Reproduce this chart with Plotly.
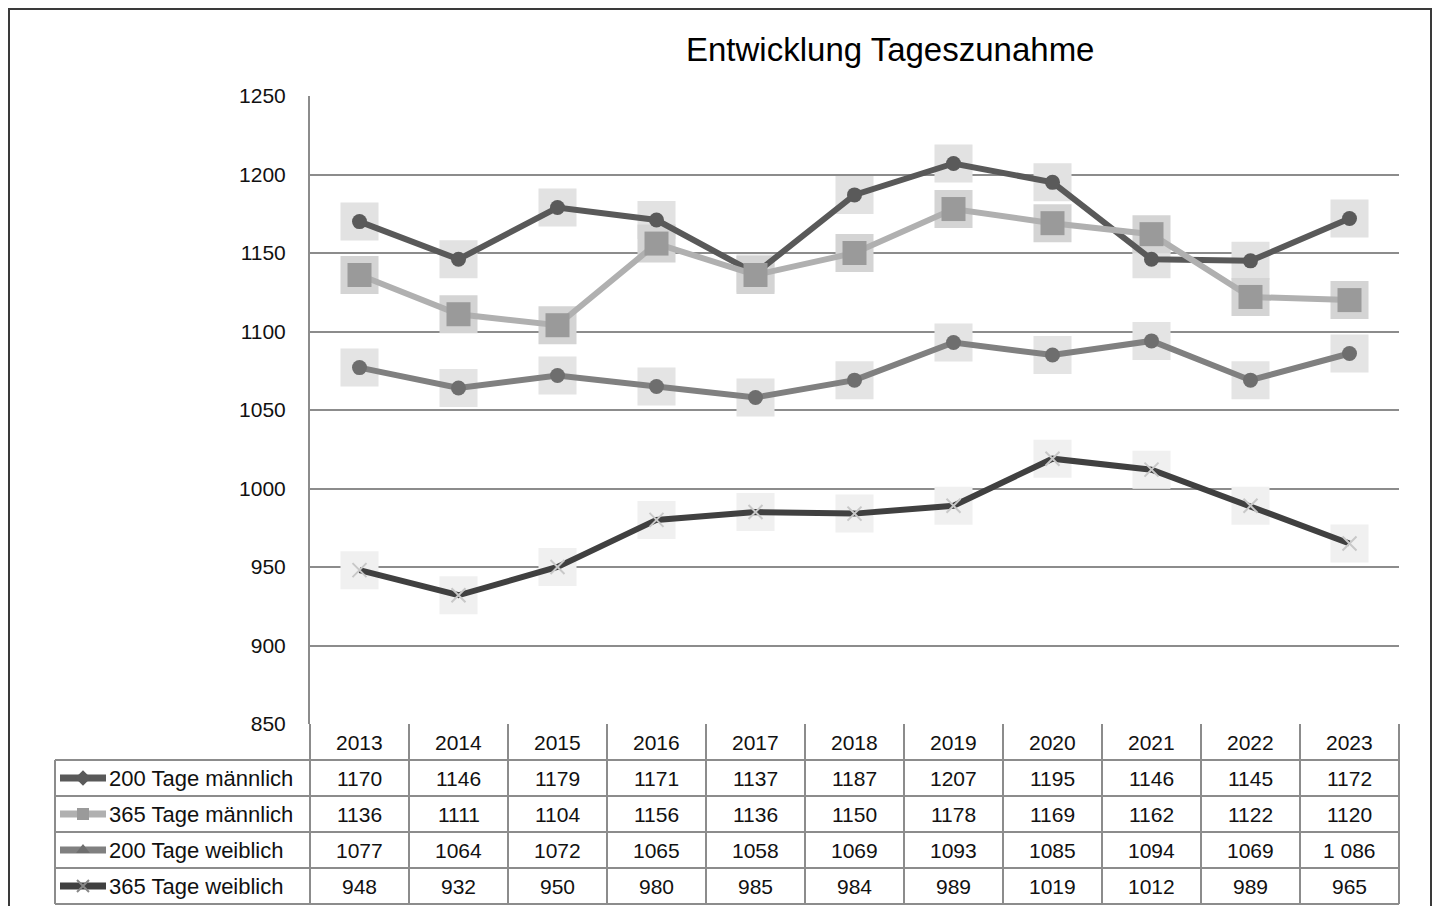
import plotly.graph_objects as go

years = ["2013", "2014", "2015", "2016", "2017", "2018", "2019", "2020", "2021", "2022", "2023"]
m200 = [1170, 1146, 1179, 1171, 1137, 1187, 1207, 1195, 1146, 1145, 1172]
m365 = [1136, 1111, 1104, 1156, 1136, 1150, 1178, 1169, 1162, 1122, 1120]
w200 = [1077, 1064, 1072, 1065, 1058, 1069, 1093, 1085, 1094, 1069, 1086]
w365 = [948, 932, 950, 980, 985, 984, 989, 1019, 1012, 989, 965]
names = ["200 Tage männlich", "365 Tage männlich", "200 Tage weiblich", "365 Tage weiblich"]
title = "Entwicklung Tageszunahme"
y_ticks = [850, 900, 950, 1000, 1050, 1100, 1150, 1200, 1250]

W, H = 1435, 906
FONT = "Liberation Sans, Arial, sans-serif"

def px(x):
    return x / W

def py(y):
    return 1 - y / H

series = [m200, m365, w200, w365]
texts = [[str(v) for v in s] for s in series]
texts[2][-1] = "1 086"

styles = [
    dict(line="#595959", marker="#5a5a5a", symbol="circle", msize=15, glow="#e2e2e2", lsym="diamond"),
    dict(line="#b0b0b0", marker="#9a9a9a", symbol="square", msize=24, glow="#d4d4d4", lsym="square"),
    dict(line="#808080", marker="#6e6e6e", symbol="circle", msize=15, glow="#e4e4e4", lsym="triangle-up"),
    dict(line="#404040", marker="#c8c8c8", symbol="x-thin-open", msize=14, glow="#f0f0f0", lsym="x-thin-open"),
]

xs = list(range(len(years)))
fig = go.Figure()

# glow squares beneath everything
for s, st in zip(series, styles):
    fig.add_trace(go.Scatter(x=xs, y=s, mode="markers", showlegend=False, hoverinfo="skip",
                             marker=dict(symbol="square", size=38, color=st["glow"], line=dict(width=0))))
for s, st, n in zip(series, styles, names):
    fig.add_trace(go.Scatter(x=xs, y=s, mode="lines+markers", name=n, showlegend=False,
                             line=dict(color=st["line"], width=6),
                             marker=dict(symbol=st["symbol"], size=st["msize"], color=st["marker"],
                                         line=dict(width=2 if "x" in st["symbol"] else 0, color=st["marker"]))))

# legend keys on a full-figure pixel axis pair
row_top = [760, 796, 832, 868]
for i, st in enumerate(styles):
    yc = row_top[i] + 18
    fig.add_trace(go.Scatter(x=[60, 106], y=[yc, yc], xaxis="x2", yaxis="y2", mode="lines",
                             showlegend=False, hoverinfo="skip",
                             line=dict(color=st["line"], width=7)))
    fig.add_trace(go.Scatter(x=[83], y=[yc], xaxis="x2", yaxis="y2", mode="markers",
                             showlegend=False, hoverinfo="skip",
                             marker=dict(symbol=st["lsym"], size=12, color=st["marker"] if i != 3 else "#888",
                                         line=dict(width=2 if i == 3 else 0, color="#888"))))

shapes = []
grid = "#8c8c8c"
shapes.append(dict(type="rect", xref="paper", yref="paper", x0=px(9), x1=px(1431), y0=py(908), y1=py(9),
                   line=dict(color="#3a3a3a", width=2)))
x_left_plot, x_right = 310, 1399
cell = (x_right - x_left_plot) / len(years)
for k in range(len(years) + 1):
    xv = x_left_plot + k * cell
    shapes.append(dict(type="line", xref="paper", yref="paper", x0=px(xv), x1=px(xv), y0=py(724), y1=py(904),
                       line=dict(color=grid, width=2)))
shapes.append(dict(type="line", xref="paper", yref="paper", x0=px(55), x1=px(55), y0=py(760), y1=py(904),
                   line=dict(color=grid, width=2)))
for yv in [760, 796, 832, 868, 904]:
    shapes.append(dict(type="line", xref="paper", yref="paper", x0=px(55), x1=px(x_right), y0=py(yv), y1=py(yv),
                       line=dict(color=grid, width=2)))

annotations = [dict(text=title, x=px(890), y=py(50), xref="paper", yref="paper", showarrow=False,
                    font=dict(size=33, color="#000", family=FONT), xanchor="center", yanchor="middle")]
for j, yr in enumerate(years):
    annotations.append(dict(text=yr, x=j, xref="x", y=py(742), yref="paper", showarrow=False,
                            xanchor="center", yanchor="middle",
                            font=dict(size=21, color="#111", family=FONT)))
for i, n in enumerate(names):
    yc = row_top[i] + 18
    annotations.append(dict(text=n, x=px(107), y=py(yc), xref="paper", yref="paper", xanchor="left",
                            yanchor="middle", showarrow=False, font=dict(size=22, color="#111", family=FONT)))
    for j in xs:
        annotations.append(dict(text=texts[i][j], x=j, xref="x", y=py(yc), yref="paper", showarrow=False,
                                xanchor="center", yanchor="middle",
                                font=dict(size=21, color="#111", family=FONT)))

fig.update_layout(
    width=W, height=H, margin=dict(l=0, r=0, t=0, b=0, autoexpand=False),
    paper_bgcolor="white", plot_bgcolor="rgba(0,0,0,0)", showlegend=False,
    xaxis=dict(domain=[px(310), px(1399)], range=[-0.5, 10.5], showgrid=False, showticklabels=False,
               zeroline=False, showline=False, ticks="", automargin=False),
    yaxis=dict(domain=[py(724), py(96)], range=[850, 1250], tickvals=y_ticks, showgrid=True,
               gridcolor=grid, gridwidth=2, zeroline=False, showline=True, linecolor=grid, linewidth=2,
               ticks="", ticklabelstandoff=18, automargin=False,
               tickfont=dict(size=21, color="#111", family=FONT)),
    xaxis2=dict(domain=[0, 1], range=[0, W], visible=False, anchor="y2", automargin=False),
    yaxis2=dict(domain=[0, 1], range=[H, 0], visible=False, anchor="x2", automargin=False),
    shapes=shapes, annotations=annotations,
)
fig.write_html("out.html", config={"displayModeBar": False},
               post_script="document.body.style.margin='0';document.body.style.overflow='hidden';")
